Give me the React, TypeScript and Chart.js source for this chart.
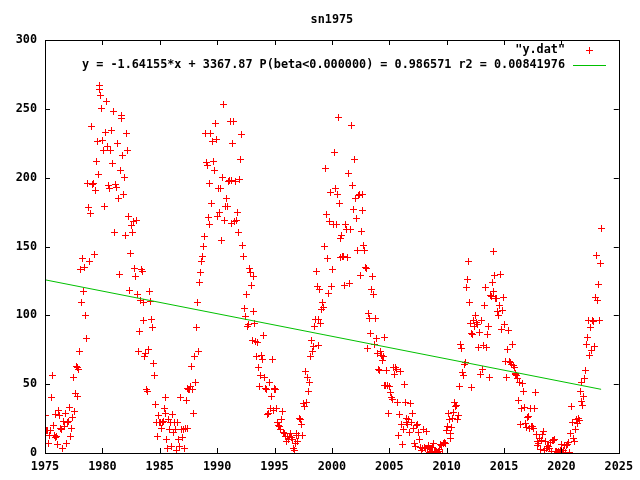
import React, { useEffect, useRef } from "react";
import { Chart, registerables } from "chart.js";

Chart.register(...registerables);

// ---------------- data (monthly values) ----------------
const startYear = 1975;

const sn1975to1979 = [
  27, 16, 16, 7, 13, 16, 40, 56, 20, 13, 28, 11,
  12, 6, 31, 27, 18, 17, 3, 23, 19, 29, 7, 22,
  23, 33, 12, 18, 26, 55, 30, 43, 63, 62, 41, 61,
  74, 133, 109, 141, 117, 135, 100, 83, 196, 178, 139, 174,
  237, 195, 196, 144, 191, 212, 226, 202, 267, 264, 260, 250,
];

const sn1980s = [
  227, 220, 179, 233, 255, 223, 194, 192, 220, 234, 210, 248,
  160, 195, 193, 225, 185, 130, 205, 243, 245, 216, 188, 200,
  158, 232, 220, 172, 118, 145, 165, 160, 168, 134, 128, 169,
  115, 74, 88, 111, 133, 132, 109, 96, 70, 72, 46, 45,
  75, 117, 110, 97, 91, 65, 56, 35, 22, 12, 27, 22,
  22, 18, 22, 23, 32, 29, 40, 10, 3.5, 24, 17, 22,
  5, 28, 15, 22, 17, 1.5, 22, 10, 5, 40, 17, 11,
  17, 3.4, 18, 38, 47, 18, 46, 46, 48, 63, 46, 29,
  70, 51, 91, 109, 74, 124, 131, 139, 143, 150, 157, 232,
  211, 209, 171, 166, 196, 232, 181, 226, 212, 205, 239, 228,
];

const sn1990s = [
  172, 192, 175, 192, 154, 200, 253, 169, 179, 185, 179, 197,
  198, 241, 198, 167, 225, 241, 168, 197, 169, 175, 160, 199,
  213, 231, 151, 143, 105, 99, 115, 92, 93, 134, 131, 122,
  82, 128, 103, 94, 81, 70, 80, 62, 48, 56, 71, 68,
  85, 55, 47, 46, 28, 29, 51, 32, 41, 68, 31, 47,
  46, 46, 32, 22, 20, 19, 17, 24, 30, 15, 14, 12,
  8, 12, 10, 12, 14, 11, 10, 3.5, 2, 7, 14, 13,
  8, 13, 25, 24, 21, 13, 36, 34, 59, 37, 55, 45,
  51, 70, 82, 74, 77, 92, 97, 132, 121, 78, 97, 119,
  94, 104, 109, 106, 150, 207, 173, 141, 116, 168, 189, 121,
];

const sn2000s = [
  133, 166, 218, 192, 166, 188, 244, 181, 156, 142, 158, 143,
  143, 122, 166, 162, 142, 203, 123, 162, 238, 194, 177, 213,
  185, 170, 147, 187, 188, 129, 161, 176, 188, 151, 147, 135,
  134, 76, 101, 98, 87, 119, 128, 115, 79, 98, 83, 72,
  61, 60, 74, 71, 67, 70, 84, 49, 49, 60, 49, 29,
  48, 44, 40, 39, 62, 57, 62, 61, 37, 13, 28, 59,
  21, 6, 17, 50, 37, 25, 22, 21, 24, 15, 36, 22,
  29, 18, 7, 5, 20, 21, 15, 10, 4, 1.5, 3, 17,
  4, 3, 15.5, 3.6, 4.6, 5.2, 0.6, 0.3, 1.2, 4.2, 6.6, 1,
  1.3, 1.2, 0.6, 1.2, 2.9, 6.3, 5.5, 0, 7.1, 7.7, 6.9, 16.3,
];

const sn2010s = [
  19.5, 28.5, 24, 10.4, 13.9, 18.8, 25.2, 29.6, 36.4, 33.6, 34.4, 24.5,
  27.3, 48.3, 78.6, 76.1, 58.2, 56.1, 64.5, 65.8, 120.1, 125.7, 139.1, 109.3,
  94.4, 47.8, 86.6, 85.9, 96.5, 92, 100.1, 94.8, 93.7, 76.5, 87.6, 56.8,
  96.1, 60.9, 78.3, 107.3, 120.2, 76.7, 86.2, 91.8, 54.5, 114.4, 113.9, 124.2,
  117, 146.1, 128.7, 112.5, 112.5, 102.9, 100.2, 106.9, 130, 90, 103.6, 112.9,
  93, 66.7, 54.5, 75.3, 88.8, 66.5, 65.8, 64.4, 78.6, 63.6, 62.2, 58,
  57, 56.4, 54.1, 37.9, 51.5, 20.5, 32.4, 50.2, 44.6, 33.4, 21.4, 18.5,
  26.1, 26.4, 17.7, 32.3, 18.9, 19.2, 17.8, 32.6, 43.7, 13.2, 5.7, 8.2,
  6.8, 10.7, 2.5, 8.9, 13.1, 15.6, 1.6, 8.7, 3.3, 4.9, 4.9, 3.1,
  7.7, 0.8, 9.4, 9.1, 9.9, 1.2, 0.9, 0.5, 1.1, 0.4, 0.5, 1.5,
];

const sn2020s = [
  6.2, 0.2, 1.5, 5.2, 0.2, 5.8, 6.1, 7.5, 0.6, 14.4, 34, 21.8,
  10.4, 8.2, 17.2, 24.5, 21.2, 25, 23.4, 44.5, 51.3, 37.4, 34.8, 41.4,
  54, 59.7, 78.5, 84.1, 96.5, 70.5, 91.4, 74.6, 96, 95.5, 77.6, 113.1,
  143.6, 110.9, 122.6, 96.4, 137.9, 163.4,
];

const xTickValues = [1975, 1980, 1985, 1990, 1995, 2000, 2005, 2010, 2015, 2020, 2025];
const yTickValues = [0, 50, 100, 150, 200, 250, 300];

const fitSlope = -1.64155;
const fitIntercept = 3367.87;

const chartTitle = "sn1975";
const seriesLabel = '"y.dat"';
const fitLabel = "y = -1.64155*x + 3367.87 P(beta<0.000000) = 0.986571 r2 = 0.00841976";

// ---------------- styling ----------------
const FONT_FAMILY = "'DejaVu Sans Mono', 'Liberation Mono', monospace";
const FONT_SIZE = 11.8;
const RED = "#ff0000";
const GREEN = "#00c000";
const TICK_LEN = 5;
const CROSS_SIZE = 7;

const allValues = [...sn1975to1979, ...sn1980s, ...sn1990s, ...sn2000s, ...sn2010s, ...sn2020s];
const points = allValues.map((v, i) => ({ x: startYear + (i + 0.5) / 12, y: v }));
const firstX = xTickValues[0];
const lastX = points[points.length - 1].x;
const fitPoints = [
  { x: firstX, y: fitSlope * firstX + fitIntercept },
  { x: lastX, y: fitSlope * lastX + fitIntercept },
];

function makeCross(color: string, size: number) {
  const c = document.createElement("canvas");
  c.width = size;
  c.height = size;
  const g = c.getContext("2d")!;
  g.fillStyle = color;
  const mid = Math.floor(size / 2);
  g.fillRect(0, mid, size, 1);
  g.fillRect(mid, 0, 1, size);
  return c;
}

const gnuplotFrame = {
  id: "gnuplotFrame",
  beforeDatasetsDraw(chart: any) {
    chart.ctx.imageSmoothingEnabled = false;
  },
  afterDraw(chart: any) {
    const ctx = chart.ctx;
    const { left, right, top, bottom } = chart.chartArea;
    const xs = chart.scales.x;
    const ys = chart.scales.y;
    ctx.save();
    ctx.strokeStyle = "#000";
    ctx.lineWidth = 1;
    ctx.strokeRect(Math.round(left) + 0.5, Math.round(top) + 0.5, Math.round(right - left), Math.round(bottom - top));
    ctx.beginPath();
    xTickValues.forEach((v) => {
      const px = Math.round(xs.getPixelForValue(v)) + 0.5;
      ctx.moveTo(px, bottom);
      ctx.lineTo(px, bottom - TICK_LEN);
      ctx.moveTo(px, top);
      ctx.lineTo(px, top + TICK_LEN);
    });
    yTickValues.forEach((v) => {
      const py = Math.round(ys.getPixelForValue(v)) + 0.5;
      ctx.moveTo(left, py);
      ctx.lineTo(left + TICK_LEN, py);
      ctx.moveTo(right, py);
      ctx.lineTo(right - TICK_LEN, py);
    });
    ctx.stroke();

    ctx.fillStyle = "#000";
    ctx.font = `bold ${FONT_SIZE}px ${FONT_FAMILY}`;
    ctx.textBaseline = "middle";
    ctx.textAlign = "center";
    ctx.fillText(chartTitle, (left + right) / 2, 20);

    const keyTextRight = 565;
    const row1 = 50;
    const row2 = 65;
    ctx.textAlign = "right";
    ctx.fillText(seriesLabel, keyTextRight, row1);
    ctx.fillText(fitLabel, keyTextRight, row2);

    ctx.fillStyle = RED;
    ctx.fillRect(586, row1, CROSS_SIZE, 1);
    ctx.fillRect(589, row1 - 3, 1, CROSS_SIZE);

    ctx.fillStyle = GREEN;
    ctx.fillRect(573, row2, 33, 1);
    ctx.restore();
  },
};

export default function App() {
  const canvasRef = useRef<HTMLCanvasElement | null>(null);

  useEffect(() => {
    if (!canvasRef.current) return;
    const tickFont = { family: FONT_FAMILY, size: FONT_SIZE, weight: "bold" as const };
    const crossImg = makeCross(RED, CROSS_SIZE);
    const chart = new Chart(canvasRef.current, {
      type: "scatter",
      data: {
        datasets: [
          {
            label: fitLabel,
            data: fitPoints,
            showLine: true,
            borderColor: GREEN,
            backgroundColor: GREEN,
            borderWidth: 1,
            pointRadius: 0,
            pointHoverRadius: 0,
            fill: false,
          },
          {
            label: seriesLabel,
            data: points,
            showLine: false,
            pointStyle: crossImg as any,
            pointRadius: 3.5,
            pointHoverRadius: 3.5,
            borderColor: RED,
            backgroundColor: RED,
            borderWidth: 1,
          },
        ],
      },
      options: {
        animation: false,
        responsive: false,
        devicePixelRatio: 1,
        events: [],
        layout: { padding: { top: 40, right: 20, left: 0, bottom: 0 } },
        plugins: {
          legend: { display: false },
          title: { display: false },
          tooltip: { enabled: false },
        },
        scales: {
          x: {
            type: "linear",
            min: 1975,
            max: 2025,
            grid: { display: false, drawTicks: false },
            border: { display: false },
            afterBuildTicks: (scale: any) => {
              scale.ticks = xTickValues.map((v) => ({ value: v }));
            },
            afterFit: (scale: any) => {
              scale.height = 27;
            },
            ticks: {
              autoSkip: false,
              maxRotation: 0,
              padding: 7,
              color: "#000",
              font: tickFont,
              callback: (v: any) => String(v),
            },
          },
          y: {
            type: "linear",
            min: 0,
            max: 300,
            grid: { display: false, drawTicks: false },
            border: { display: false },
            afterBuildTicks: (scale: any) => {
              scale.ticks = yTickValues.map((v) => ({ value: v }));
            },
            afterFit: (scale: any) => {
              scale.width = 45;
            },
            ticks: {
              autoSkip: false,
              padding: 8,
              color: "#000",
              font: tickFont,
              callback: (v: any) => String(v),
            },
          },
        },
      },
      plugins: [gnuplotFrame],
    });
    return () => chart.destroy();
  }, []);

  return (
    <div style={{ position: "absolute", left: 0, top: 0, width: 640, height: 480, background: "#fff" }}>
      <canvas ref={canvasRef} width={640} height={480} style={{ display: "block", width: 640, height: 480 }} />
    </div>
  );
}
